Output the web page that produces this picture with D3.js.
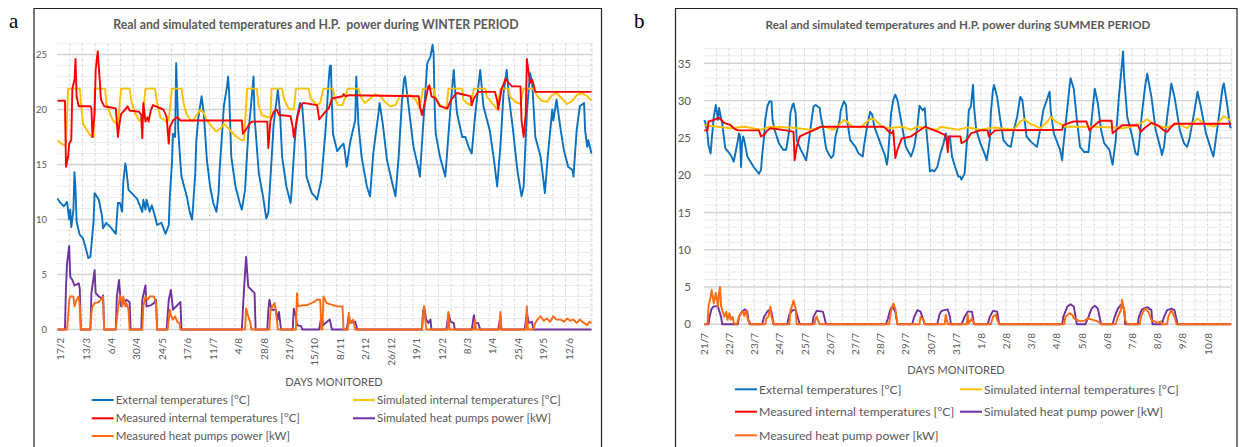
<!DOCTYPE html>
<html lang="en">
<head>
<meta charset="utf-8">
<title>Real and simulated temperatures and H.P. power</title>
<script src="https://d3js.org/d3.v7.min.js"></script>
<style>
body { margin: 0; background: #fff; }
svg { display: block; font-family: Lato, "Open Sans", sans-serif; }
</style>
</head>
<body>
<script>
// ---- data: [hour index, value] ----
const winterTicks = ["17/2","13/3","6/4","30/4","24/5","17/6","11/7","4/8","28/8","21/9","15/10","8/11","2/12","26/12","19/1","12/2","8/3","1/4","25/4","19/5","12/6"];
const summerTicks = ["21/7","22/7","23/7","24/7","25/7","26/7","27/7","28/7","29/7","30/7","31/7","1/8","2/8","3/8","4/8","5/8","6/8","7/8","8/8","9/8","10/8"];

const winterExt = [[0,11.9],[2,11.6],[6,11.2],[9,11.6],[11,10.0],[12,10.9],[13,9.3],[15,10.9],[16,14.3],[17,12.7],[18,9.8],[21,8.6],[24,8.3],[28,6.9],[29,6.5],[31,6.6],[34,9.8],[35,12.4],[39,11.8],[42,10.3],[43,9.2],[46,9.7],[51,9.2],[55,8.7],[57,11.5],[59,11.5],[61,10.7],[62,13.3],[64,15.1],[65,14.5],[67,12.7],[72,12.2],[75,11.9],[78,11.2],[80,10.7],[81,11.8],[83,10.9],[84,11.8],[87,10.7],[89,11.3],[92,10.3],[94,9.5],[98,9.7],[102,8.7],[105,9.5],[106,12.1],[108,15.1],[109,17.8],[111,17.5],[112,24.2],[114,18.1],[116,15.1],[117,13.9],[122,12.1],[125,10.6],[127,10.0],[128,11.3],[130,14.2],[131,17.2],[133,19.3],[136,21.2],[138,19.7],[141,15.4],[144,13.0],[147,11.5],[150,10.7],[152,12.4],[153,14.5],[157,20.3],[160,22.1],[161,23.0],[162,21.5],[164,15.7],[168,13.0],[172,11.5],[174,10.9],[177,12.7],[180,17.8],[182,19.7],[185,23.0],[186,19.3],[190,14.2],[194,12.1],[197,10.1],[199,10.6],[202,15.4],[204,18.7],[208,21.8],[210,19.7],[212,15.7],[216,13.0],[220,11.5],[221,12.7],[224,17.2],[226,19.3],[229,20.6],[231,20.3],[234,16.3],[235,13.9],[240,12.4],[243,12.1],[245,11.8],[249,13.6],[253,18.1],[256,22.7],[257,23.9],[258,24.0],[259,20.6],[260,17.8],[264,16.2],[267,16.6],[270,16.9],[271,16.3],[273,14.8],[276,16.9],[278,17.8],[281,19.0],[282,23.0],[284,18.7],[287,15.7],[292,13.0],[295,12.1],[298,16.0],[303,19.7],[304,20.6],[307,18.7],[311,15.4],[316,13.3],[319,12.1],[322,15.7],[325,20.6],[327,22.7],[328,23.0],[331,20.6],[336,16.6],[341,14.5],[342,13.9],[345,18.4],[349,24.2],[352,24.8],[354,25.9],[355,25.1],[356,20.3],[357,17.8],[361,15.7],[366,13.9],[367,15.1],[371,20.3],[374,23.6],[375,22.1],[377,19.7],[382,17.5],[385,17.5],[388,16.6],[391,16.0],[394,19.3],[399,23.6],[402,20.3],[408,18.1],[412,15.4],[415,13.0],[418,16.6],[421,21.5],[424,23.6],[426,21.2],[430,18.1],[434,14.5],[438,12.1],[440,13.0],[443,19.7],[446,23.3],[448,22.5],[451,17.5],[456,15.7],[459,13.3],[460,12.4],[463,16.0],[467,20.0],[468,19.0],[471,20.9],[475,18.1],[478,16.3],[482,14.8],[486,14.5],[487,13.9],[490,18.1],[493,20.3],[497,20.6],[498,18.1],[500,16.6],[501,17.2],[504,16.0]];

const winterSim = [[0,17.2],[5,16.8],[8,16.8],[10,21.9],[21,21.9],[23,19.7],[24,18.7],[28,18.1],[32,17.5],[34,17.5],[35,21.9],[45,21.9],[46,20.6],[50,19.5],[53,18.9],[57,18.6],[60,21.9],[68,21.9],[70,20.6],[73,19.7],[77,19.0],[80,19.0],[83,21.9],[92,21.9],[94,20.6],[97,19.3],[103,18.9],[105,19.0],[108,21.9],[117,21.9],[119,20.6],[122,19.5],[127,18.9],[130,19.3],[135,20.0],[138,19.7],[141,19.0],[146,18.4],[150,18.0],[154,18.3],[157,18.7],[160,18.4],[164,18.0],[169,17.5],[174,17.2],[176,17.2],[179,21.9],[188,21.9],[190,20.3],[193,19.5],[198,19.3],[201,19.3],[202,21.9],[212,21.9],[214,20.9],[218,20.1],[223,20.0],[225,21.9],[237,21.9],[239,21.0],[245,20.4],[248,20.6],[251,21.9],[260,21.9],[262,20.9],[265,20.4],[269,20.4],[272,21.2],[274,21.9],[284,21.9],[286,21.2],[290,20.6],[295,21.0],[300,21.4],[305,21.2],[309,20.7],[314,20.3],[319,20.4],[323,21.2],[328,21.3],[333,21.3],[338,20.9],[342,20.1],[345,21.9],[355,21.9],[357,21.0],[361,20.4],[367,20.0],[369,21.9],[382,21.9],[383,20.9],[386,20.6],[390,20.4],[393,21.9],[404,21.9],[405,21.2],[410,20.6],[415,20.0],[418,21.9],[426,21.9],[427,21.2],[432,20.7],[437,20.5],[440,21.9],[449,21.9],[453,21.2],[457,20.8],[462,20.7],[467,21.3],[471,21.5],[476,21.0],[481,20.5],[486,20.8],[490,21.3],[495,21.5],[500,21.2],[504,20.8]];

const winterMeas = [[0,20.8],[7,20.8],[8,14.8],[10,15.7],[11,16.9],[13,17.2],[14,21.9],[16,22.7],[17,24.6],[18,21.2],[20,20.3],[31,20.3],[32,20.1],[33,17.5],[35,19.6],[36,23.6],[38,25.3],[40,22.4],[41,20.9],[44,20.3],[55,20.1],[57,17.5],[58,18.4],[60,19.6],[64,20.0],[66,20.3],[68,19.9],[77,19.8],[79,19.5],[80,17.4],[81,20.6],[83,18.9],[85,19.3],[86,18.9],[88,19.9],[90,20.4],[100,20.0],[103,19.3],[105,16.9],[106,18.4],[109,19.0],[113,19.3],[116,19.0],[174,19.0],[175,17.8],[178,18.2],[182,18.8],[184,18.9],[198,18.9],[199,16.5],[201,19.0],[204,19.8],[207,20.0],[209,19.5],[220,19.4],[222,18.4],[223,17.5],[226,19.1],[229,20.3],[232,20.6],[245,20.4],[247,19.1],[251,19.6],[256,20.1],[259,21.0],[269,21.2],[270,21.4],[272,21.2],[275,21.3],[341,21.2],[342,20.3],[344,19.5],[347,20.7],[350,22.1],[351,22.2],[353,21.2],[357,21.0],[361,20.3],[368,20.1],[371,20.8],[375,21.3],[377,21.5],[386,21.3],[390,21.2],[391,20.4],[393,21.0],[397,21.6],[413,21.6],[415,20.8],[416,20.0],[419,21.8],[423,22.8],[426,22.4],[429,22.1],[437,22.1],[438,19.0],[440,17.5],[442,19.7],[443,24.6],[446,22.4],[448,22.7],[449,22.4],[451,21.6],[504,21.6]];

const winterSimHP = [[0,0],[7,0],[8,3.9],[9,6.0],[11,7.6],[12,4.8],[14,4.5],[16,4.0],[20,4.2],[21,3.7],[22,0],[31,0],[32,3.3],[33,4.0],[35,5.4],[36,3.3],[39,3.0],[42,2.8],[43,3.1],[44,0],[55,0],[56,3.0],[58,4.5],[60,2.1],[62,2.4],[65,2.7],[68,2.5],[69,0],[79,0],[80,2.7],[83,4.0],[84,2.1],[88,2.2],[91,2.4],[93,2.7],[94,0],[103,0],[105,2.7],[107,3.6],[109,1.8],[112,2.1],[116,2.5],[117,0],[174,0],[176,3.6],[178,6.6],[180,3.9],[183,3.6],[186,3.3],[187,0],[198,0],[199,1.8],[200,2.7],[202,1.8],[206,1.8],[208,0.9],[209,1.6],[211,0],[222,0],[223,1.9],[225,1.2],[226,0.4],[230,0.3],[231,0],[247,0],[249,1.2],[251,0.4],[253,0.6],[257,0.9],[259,0],[273,0],[275,1.3],[276,0.6],[281,0.7],[283,0],[344,0],[345,1.6],[346,2.1],[348,0.9],[350,0.6],[352,0.9],[353,0],[367,0],[369,1.5],[371,0.7],[374,0.6],[375,0],[391,0],[393,1.3],[394,0.6],[397,0.6],[399,0],[416,0],[418,1.2],[419,0],[441,0],[443,1.5],[445,0.6],[448,0.7],[449,0],[504,0]];

const winterMeasHP = [[0,0],[9,0],[10,1.2],[11,2.7],[12,3.0],[15,3.0],[16,2.1],[18,2.7],[20,3.0],[21,2.1],[22,0],[31,0],[32,1.5],[33,2.1],[35,2.4],[39,2.5],[41,2.7],[43,3.0],[44,0],[55,0],[57,1.8],[59,3.1],[61,2.1],[62,3.0],[64,2.1],[65,2.4],[67,1.8],[68,0],[80,0],[81,2.1],[83,3.0],[85,2.7],[87,3.0],[89,3.0],[91,3.0],[93,2.5],[94,0],[104,0],[106,1.8],[107,1.3],[109,0.9],[111,1.2],[113,0.7],[115,0.6],[116,0],[177,0],[178,1.9],[180,1.2],[182,0.6],[183,0],[200,0],[201,1.8],[203,2.1],[205,2.4],[207,0.9],[208,0],[225,0],[226,3.3],[227,2.1],[231,2.2],[235,2.2],[242,2.5],[245,2.7],[248,2.7],[249,0],[250,0],[251,3.0],[254,2.4],[257,2.3],[264,2.1],[269,2.1],[270,0],[274,0],[275,1.5],[276,0.6],[279,0.9],[281,0],[344,0],[345,1.2],[346,2.1],[348,0],[368,0],[369,1.6],[370,0],[393,0],[394,0.9],[395,0],[417,0],[418,1.6],[419,0],[442,0],[443,2.1],[444,0],[449,0],[451,0.6],[453,0.9],[456,1.2],[459,0.8],[462,1.0],[465,0.7],[468,1.2],[471,0.9],[475,0.9],[478,0.7],[481,1.0],[484,0.8],[487,0.9],[490,0.6],[493,0.9],[497,0.6],[500,0.4],[502,0.7],[504,0.6]];

const summerExt = [[0,27.4],[1,27.0],[3,25.6],[4,24.0],[6,22.9],[7,24.7],[9,27.8],[11,29.4],[13,27.4],[14,29.0],[16,27.6],[17,27.0],[19,24.7],[20,23.6],[23,23.1],[26,22.5],[28,21.8],[29,22.5],[32,24.7],[33,25.6],[34,25.2],[35,21.1],[36,24.3],[37,25.2],[38,24.7],[41,22.5],[47,21.1],[52,20.2],[54,20.7],[55,22.5],[57,25.2],[58,27.4],[60,29.2],[62,29.9],[64,29.9],[65,27.4],[67,26.1],[71,24.3],[75,23.4],[78,23.4],[79,24.3],[81,26.1],[82,28.3],[84,29.4],[85,29.6],[87,28.3],[88,24.7],[92,23.4],[97,22.0],[98,22.9],[101,26.1],[104,29.2],[106,29.4],[110,29.0],[111,27.8],[113,26.5],[116,23.6],[119,22.7],[121,22.3],[123,22.7],[125,25.2],[129,27.4],[130,28.7],[133,29.9],[135,29.4],[136,27.4],[139,24.7],[144,23.8],[147,22.9],[151,22.5],[152,23.8],[155,26.5],[158,28.5],[160,28.1],[162,26.5],[169,23.8],[172,22.7],[174,21.4],[175,22.5],[178,28.3],[180,30.1],[182,30.8],[184,30.1],[186,28.5],[189,26.1],[192,23.8],[197,22.5],[200,23.8],[203,26.5],[205,29.3],[208,28.7],[210,29.0],[211,27.0],[213,23.8],[215,20.5],[217,20.7],[219,20.5],[222,21.1],[225,22.9],[228,24.3],[230,25.6],[232,24.7],[234,25.2],[236,22.5],[239,21.1],[242,19.8],[244,19.8],[245,19.4],[248,20.2],[251,26.1],[252,28.7],[254,29.2],[256,32.1],[257,29.2],[259,26.1],[263,24.3],[267,22.9],[269,22.0],[270,22.9],[272,24.7],[273,28.3],[275,31.4],[276,32.1],[279,30.5],[282,27.4],[285,24.7],[289,24.0],[292,23.8],[295,26.1],[298,27.8],[301,30.5],[303,30.1],[307,25.2],[311,24.5],[317,23.8],[320,26.1],[323,28.7],[329,31.2],[330,28.7],[333,25.6],[339,23.4],[341,22.0],[342,23.8],[346,29.2],[348,31.9],[349,33.0],[352,31.6],[355,27.4],[358,23.8],[362,23.1],[366,23.1],[369,27.4],[372,31.6],[375,29.6],[378,26.1],[381,24.3],[386,23.4],[389,21.4],[392,24.7],[395,30.5],[398,35.0],[399,36.6],[400,33.2],[403,27.8],[407,25.6],[411,22.9],[413,22.7],[414,23.8],[417,28.3],[420,31.9],[422,33.6],[426,30.5],[430,26.1],[435,23.4],[436,22.7],[438,23.8],[441,27.8],[445,32.3],[448,30.5],[453,26.1],[457,24.3],[460,23.8],[462,24.7],[466,27.8],[470,31.2],[473,29.2],[478,25.6],[482,23.8],[485,22.5],[486,23.4],[489,26.5],[494,31.9],[495,32.3],[498,29.6],[501,26.5],[502,26.3]];

const summerSim = [[0,26.7],[13,26.5],[25,26.3],[38,26.5],[54,26.1],[63,26.5],[82,26.4],[101,26.1],[114,26.5],[123,26.1],[130,27.0],[133,27.4],[136,27.2],[141,26.5],[149,26.4],[155,27.2],[159,27.6],[163,27.4],[169,26.5],[175,26.3],[188,26.5],[197,26.1],[203,26.5],[222,26.1],[225,26.5],[242,26.1],[251,26.4],[263,26.1],[276,26.4],[295,26.1],[301,27.2],[305,27.5],[310,26.9],[320,26.3],[327,27.2],[330,27.8],[335,27.2],[344,26.5],[366,26.5],[391,26.4],[400,26.3],[413,26.7],[422,27.5],[429,26.7],[441,26.4],[451,26.9],[460,26.3],[470,27.6],[476,26.9],[486,26.5],[495,27.9],[502,27.3]];

const summerMeas = [[0,26.0],[3,26.0],[4,27.2],[9,27.4],[14,27.7],[19,27.0],[25,26.7],[29,26.2],[32,26.0],[52,26.0],[54,25.2],[57,25.4],[60,26.0],[63,26.3],[78,26.0],[85,25.8],[86,22.0],[88,23.8],[91,25.2],[97,25.6],[104,26.0],[111,26.5],[171,26.5],[176,25.8],[179,25.6],[180,26.0],[182,22.3],[184,23.4],[188,24.9],[197,25.2],[203,25.8],[210,26.5],[219,26.0],[223,25.8],[229,25.4],[231,24.5],[232,23.1],[233,25.2],[244,25.2],[245,24.3],[248,24.5],[251,24.9],[254,25.6],[263,26.0],[270,26.0],[271,25.2],[274,25.6],[277,26.0],[341,26.1],[342,26.7],[352,27.2],[364,27.2],[367,26.0],[371,26.6],[377,27.3],[388,27.3],[389,25.6],[392,26.0],[398,26.7],[413,26.7],[416,25.8],[420,26.4],[426,27.0],[433,26.6],[438,26.0],[441,25.8],[445,26.5],[448,26.9],[502,26.9]];

const summerSimHP = [[0,0],[4,0],[5,1.0],[7,2.1],[9,2.4],[13,2.4],[14,1.9],[16,1.0],[17,0],[32,0],[33,1.0],[36,1.7],[39,2.0],[41,1.7],[42,0.6],[44,0],[55,0],[57,1.0],[60,1.7],[63,2.0],[64,1.7],[66,0],[79,0],[81,1.3],[84,1.9],[87,1.9],[91,0],[103,0],[104,1.0],[107,1.8],[113,1.7],[116,0],[173,0],[175,0.8],[177,1.9],[179,2.4],[182,1.7],[184,0],[198,0],[200,1.0],[203,1.9],[206,1.7],[210,0],[222,0],[224,1.3],[226,1.8],[232,2.0],[234,1.0],[235,0],[245,0],[248,1.0],[251,1.7],[255,1.7],[257,0],[270,0],[272,1.0],[275,1.8],[279,1.7],[281,0],[341,0],[342,1.0],[346,2.4],[349,2.7],[352,2.4],[355,0],[363,0],[366,1.0],[369,2.1],[372,2.5],[375,2.1],[378,0],[389,0],[391,1.0],[394,2.1],[397,2.6],[400,2.1],[401,0],[413,0],[414,1.0],[417,2.0],[422,2.3],[426,1.9],[427,0],[436,0],[438,1.0],[441,1.9],[445,2.1],[448,1.9],[451,0],[502,0]];

const summerMeasHP = [[0,0],[3,0],[4,2.4],[6,3.7],[7,4.6],[9,2.8],[11,4.2],[13,2.4],[14,4.2],[15,5.0],[16,2.4],[18,1.5],[19,1.0],[21,1.7],[22,0.6],[24,1.5],[25,0.6],[27,1.0],[28,0.2],[31,0],[33,1.0],[35,1.5],[37,1.7],[38,1.1],[40,1.9],[41,0.9],[43,0],[58,0],[59,0.8],[61,1.0],[63,2.4],[64,1.0],[66,0],[81,0],[82,1.9],[84,2.6],[85,3.2],[87,2.1],[88,0],[105,0],[106,0.8],[107,1.0],[110,0],[176,0],[178,1.9],[180,2.8],[182,2.1],[184,0],[205,0],[206,1.0],[209,0.6],[210,0],[229,0],[230,1.3],[232,0],[250,0],[251,1.3],[252,0.1],[255,0.8],[257,0],[273,0],[275,1.0],[278,1.3],[279,0.6],[281,0],[343,0],[344,1.0],[348,1.5],[351,1.2],[352,0.8],[355,0.6],[358,0.4],[362,0.5],[366,0.8],[370,0.6],[375,0.4],[378,0],[392,0],[394,1.0],[397,1.9],[398,3.3],[400,1.9],[401,0.6],[403,0],[415,0],[416,1.0],[419,1.9],[420,2.1],[423,1.7],[426,0.6],[429,0.4],[432,0.2],[435,0.4],[436,0],[441,0],[442,1.0],[445,1.9],[448,1.0],[450,0],[502,0]];

const winterNames = ["External temperatures [°C]","Simulated internal temperatures [°C]","Measured internal temperatures [°C]","Simulated heat pumps power [kW]","Measured heat pumps power [kW]"];
const summerNames = ["External temperatures [°C]","Simulated internal temperatures [°C]","Measured internal temperatures [°C]","Simulated heat pump power [kW]","Measured heat pump power [kW]"];

// ---- layout ----
const svgWidth = 1241, svgHeight = 447;
const colors = ["#0a70c0", "#ffc000", "#ff0000", "#7030a0", "#ff6a13"];
const textColor = "#595959";

const svg = d3.select("body").append("svg")
    .attr("width", svgWidth)
    .attr("height", svgHeight);

svg.append("rect").attr("width", svgWidth).attr("height", svgHeight).attr("fill", "#fff");

const panels = [
  {
    letter: "a", letterX: 9, box: [34, 8.5, 601.5],
    title: "Real and simulated temperatures and H.P.  power during WINTER PERIOD", titleX: 316, titleY: 29, titleFont: 12.3,
    left: 57, right: 592, top: 43.5, bottom: 329.5, n: 505, yMax: 26, tickStart: 3,
    ticks: winterTicks, tickTop: 338, xFont: 10, yFont: 9.5, yLabelX: 47,
    axisTitleX: 334, axisTitleY: 386,
    legendCols: [91.7, 353], legendRows: [400, 418.3, 436], legendFont: 11.5,
    names: winterNames,
    series: [winterExt, winterSim, winterMeas, winterSimHP, winterMeasHP]
  },
  {
    letter: "b", letterX: 634, box: [675.5, 8.5, 1237],
    title: "Real and simulated temperatures and H.P. power during SUMMER PERIOD", titleX: 958, titleY: 29, titleFont: 11.6,
    left: 703.8, right: 1231.7, top: 48.4, bottom: 324.3, n: 503, yMax: 37, tickStart: 0,
    ticks: summerTicks, tickTop: 333, xFont: 10, yFont: 11.5, yLabelX: 691,
    axisTitleX: 956, axisTitleY: 374,
    legendCols: [735, 960], legendRows: [389.3, 411.7, 435.3], legendFont: 12.2,
    names: summerNames,
    series: [summerExt, summerSim, summerMeas, summerSimHP, summerMeasHP]
  }
];

panels.forEach(p => {
  const g = svg.append("g");

  // outer frame (runs past the bottom of the picture)
  g.append("path")
    .attr("d", `M${p.box[0]},${svgHeight + 5}V${p.box[1]}H${p.box[2]}V${svgHeight + 5}`)
    .attr("fill", "none").attr("stroke", "#222").attr("stroke-width", 1.2);

  g.append("text")
    .attr("x", p.letterX).attr("y", 28)
    .attr("font-family", "'Liberation Serif', 'DejaVu Serif', serif")
    .attr("font-size", 21).attr("fill", "#000")
    .text(p.letter);

  g.append("text")
    .attr("x", p.titleX).attr("y", p.titleY)
    .attr("text-anchor", "middle").attr("font-weight", 700)
    .attr("font-size", p.titleFont).attr("fill", textColor)
    .attr("xml:space", "preserve")
    .text(p.title);

  const x = d3.scaleLinear().domain([-0.5, p.n - 0.5]).range([p.left, p.right]);
  const y = d3.scaleLinear().domain([0, p.yMax]).range([p.bottom, p.top]);

  // minor + major horizontal grid
  const grid = g.append("g");
  grid.selectAll("line.minor")
    .data(d3.range(0, p.yMax + 1).filter(v => v % 5 !== 0))
    .join("line")
    .attr("x1", p.left).attr("x2", p.right)
    .attr("y1", d => y(d)).attr("y2", d => y(d))
    .attr("stroke", "#ededed").attr("stroke-width", 1);

  // vertical dashed grid every 12 hours
  grid.selectAll("line.vert")
    .data(d3.range(12, p.n, 12).concat([p.n]))
    .join("line")
    .attr("x1", d => x(d - 0.5)).attr("x2", d => x(d - 0.5))
    .attr("y1", p.top).attr("y2", p.bottom)
    .attr("stroke", "#d9d9d9").attr("stroke-width", 1)
    .attr("stroke-dasharray", "3,2");

  grid.selectAll("line.major")
    .data(d3.range(0, p.yMax + 1, 5))
    .join("line")
    .attr("x1", p.left).attr("x2", p.right)
    .attr("y1", d => y(d)).attr("y2", d => y(d))
    .attr("stroke", "#d4d4d4").attr("stroke-width", 1.4);

  // y axis labels
  const yAxis = d3.axisLeft(y).tickValues(d3.range(0, p.yMax + 1, 5)).tickSize(0).tickPadding(0);
  g.append("g")
    .attr("transform", `translate(${p.yLabelX},0)`)
    .call(yAxis)
    .call(a => a.select(".domain").remove())
    .call(a => a.selectAll("text")
      .attr("fill", textColor)
      .attr("font-size", p.yFont)
      .attr("font-family", "Lato, sans-serif"));

  // x labels, every 24 hours, rotated
  g.selectAll("text.xtick")
    .data(p.ticks)
    .join("text")
    .attr("transform", (d, i) => `translate(${x(p.tickStart + i * 24)},${p.tickTop}) rotate(-90)`)
    .attr("text-anchor", "end").attr("dy", "0.35em")
    .attr("font-size", p.xFont).attr("fill", textColor)
    .text(d => d);

  // series
  const line = d3.line().x(d => x(d[0])).y(d => y(d[1]));
  p.series.forEach((s, i) => {
    g.append("path")
      .datum(s)
      .attr("d", line)
      .attr("fill", "none")
      .attr("stroke", colors[i])
      .attr("stroke-width", 1.9)
      .attr("stroke-linejoin", "round");
  });

  g.append("text")
    .attr("x", p.axisTitleX).attr("y", p.axisTitleY)
    .attr("text-anchor", "middle")
    .attr("font-size", 11).attr("fill", textColor)
    .text("DAYS MONITORED");

  // legend, two columns
  p.names.forEach((name, i) => {
    const lx = p.legendCols[i % 2];
    const ly = p.legendRows[Math.floor(i / 2)];
    g.append("line")
      .attr("x1", lx).attr("x2", lx + 22)
      .attr("y1", ly).attr("y2", ly)
      .attr("stroke", colors[i]).attr("stroke-width", 2);
    g.append("text")
      .attr("x", lx + 24).attr("y", ly).attr("dy", "0.35em")
      .attr("font-size", p.legendFont).attr("fill", textColor)
      .text(name);
  });
});
</script>
</body>
</html>
